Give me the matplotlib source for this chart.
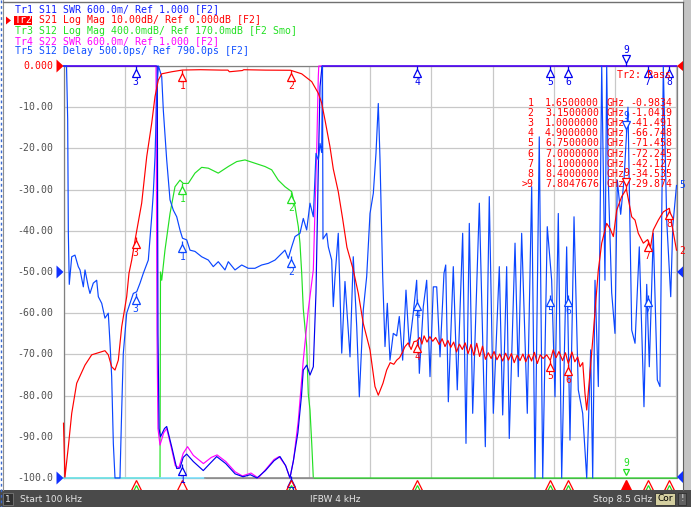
import matplotlib
matplotlib.use('Agg')
import matplotlib.pyplot as plt
import numpy as np
from matplotlib import transforms
from matplotlib.patches import Rectangle, Polygon

# ---- trace data (GHz, value on the screen grid of Tr2, dB) ----
s21_f = [0.0, 0.02, 0.067, 0.114, 0.183, 0.298, 0.391, 0.575, 0.621, 0.668, 0.714, 0.76, 0.807,
         0.876, 0.908, 0.946, 1.0, 1.084, 1.154, 1.223, 1.269, 1.315, 1.362, 1.5, 1.65, 1.9, 2.194,
         2.28, 2.3, 2.48, 2.5, 2.8, 3.15, 3.303, 3.442, 3.533, 3.58, 3.626, 3.695, 3.741, 3.81,
         3.87, 3.93, 4.018, 4.088, 4.157, 4.25, 4.319, 4.365, 4.43, 4.481, 4.53, 4.58, 4.62, 4.66,
         4.70, 4.735, 4.78, 4.82, 4.86, 4.90, 4.94, 4.97, 5.00, 5.04, 5.08, 5.12, 5.16, 5.21,
         5.25, 5.29, 5.33, 5.37, 5.41, 5.45, 5.49, 5.53, 5.57, 5.61, 5.65, 5.69, 5.73, 5.77,
         5.81, 5.85, 5.89, 5.93, 5.97, 6.01, 6.05, 6.09, 6.13, 6.17, 6.21, 6.25, 6.29, 6.33,
         6.37, 6.41, 6.45, 6.49, 6.53, 6.57, 6.61, 6.65, 6.70, 6.75, 6.79, 6.83, 6.87, 6.92,
         6.96, 7.00, 7.05, 7.09, 7.13, 7.162, 7.20, 7.231, 7.255, 7.30, 7.346, 7.416, 7.463,
         7.532, 7.58, 7.624, 7.671, 7.74, 7.805, 7.879, 7.925, 7.97, 8.04, 8.1, 8.14, 8.178,
         8.248, 8.317, 8.4, 8.433, 8.5]
s21_db = [-86.7, -99.8, -92.4, -84.3, -77.0, -72.6, -70.1, -69.1, -70.1, -73.0, -73.8, -71.4, -63.3,
          -56.0, -50.3, -47.1, -41.49, -33.3, -22.0, -13.9, -7.4, -3.4, -1.9, -1.4, -0.98, -0.9, -1.0,
          -1.0, -1.4, -1.1, -0.9, -1.0, -1.04, -1.9, -3.8, -6.6, -9.0, -13.1, -19.6, -25.0, -30.5,
          -37.0, -44.0, -49.5, -55.2, -62.5, -68.9, -77.8, -79.9, -77.0, -73.8, -72.0, -72.4, -71.4, -70.8,
          -69.5, -68.1, -67.2, -68.8, -66.9, -66.75, -65.9, -67.5, -65.5, -67.0, -65.7, -66.8, -65.9, -67.6,
          -66.2, -68.1, -66.6, -68.3, -67.0, -69.4, -67.5, -68.8, -67.2, -69.8, -67.6, -70.2, -67.3, -70.5,
          -68.0, -71.2, -69.6, -71.0, -69.3, -71.3, -69.9, -71.6, -69.7, -71.4, -69.8, -72.0, -70.2, -71.5,
          -69.9, -71.8, -70.0, -71.6, -69.5, -72.2, -70.1, -71.0, -70.1, -71.46, -68.9, -70.8, -69.3, -71.5,
          -69.6, -72.25, -69.4, -71.8, -70.6, -73.0, -72.0, -79.5, -83.5, -74.6, -64.9, -49.5, -43.0,
          -38.2, -39.5, -41.4, -35.0, -31.7, -29.87, -36.6, -37.4, -40.6, -43.0, -42.13, -44.0, -39.8,
          -37.4, -35.4, -34.54, -38.2, -44.7]

s12_f = [0.0, 1.338, 1.345, 1.362, 1.407, 1.477, 1.546, 1.615, 1.661, 1.73, 1.823, 1.916, 2.008,
         2.146, 2.285, 2.402, 2.517, 2.655, 2.794, 2.887, 2.978, 3.071, 3.164, 3.21, 3.256, 3.279,
         3.303, 3.325, 3.372, 3.394, 3.418, 3.442, 3.464, 8.5]
s12_db = [-100, -100, -50.0, -52.0, -44.7, -35.8, -29.3, -27.7, -28.5, -28.5, -26.0, -24.6, -24.8,
          -26.0, -24.4, -23.2, -22.8, -23.6, -24.4, -25.2, -27.7, -29.3, -30.5, -34.1, -39.0, -43.0,
          -50.3, -59.0, -68.0, -79.5, -83.5, -91.6, -100, -100]

s22_f = [0.0, 1.283, 1.296, 1.31, 1.338, 1.39, 1.431, 1.50, 1.55, 1.60, 1.66, 1.72, 1.80, 1.94,
         2.05, 2.13, 2.25, 2.38, 2.48, 2.60, 2.70, 2.80, 2.92, 2.99, 3.08, 3.14, 3.19, 3.256, 3.325,
         3.394, 3.464, 3.487, 3.511, 3.533, 3.54, 8.5]
s22_db = [0, 0, -64, -88, -92, -89, -88, -93, -97, -97.5, -94, -92.4, -94.5, -96.5,
          -95, -94.4, -96, -98.5, -99.5, -98.8, -100, -98, -95.5, -94.8, -97, -100, -95.6, -86, -71.4,
          -59.2, -49.5, -35, -20.4, -2.6, 0, 0]

s11_f = [0.0, 1.30, 1.31, 1.325, 1.345, 1.40, 1.431, 1.50, 1.57, 1.615, 1.66, 1.708, 1.80, 1.938,
         2.03, 2.124, 2.25, 2.38, 2.49, 2.59, 2.683, 2.80, 2.92, 3.002, 3.08, 3.14, 3.186, 3.25,
         3.30, 3.325, 3.372, 3.418, 3.464, 3.501, 3.533, 3.557, 3.585, 8.5]
s11_db = [0, 0, -65, -88, -90, -88, -87.5, -92.4, -97.7, -97.6, -95, -94.2, -96, -98.2,
          -96.5, -94.8, -96.5, -99, -99.7, -99.2, -100, -98.2, -95.8, -94.8, -97, -100, -96, -89,
          -80, -73.8, -72.6, -75, -73, -55, -25, -5, 0, 0]

dly_f = [0.0, 0.042, 0.058, 0.067, 0.08, 0.114, 0.159, 0.205, 0.229, 0.275, 0.298, 0.344, 0.367,
         0.413, 0.46, 0.483, 0.53, 0.575, 0.621, 0.645, 0.668, 0.691, 0.714, 0.783, 0.807, 0.829,
         0.876, 0.922, 0.968, 1.015, 1.061, 1.107, 1.176, 1.223, 1.245, 1.269, 1.296, 1.317, 1.362,
         1.384, 1.431, 1.477, 1.523, 1.57, 1.615, 1.65, 1.708, 1.754, 1.823, 1.916, 2.008, 2.077,
         2.146, 2.239, 2.285, 2.378, 2.471, 2.562, 2.655, 2.748, 2.84, 2.933, 3.026, 3.071, 3.117,
         3.164, 3.21, 3.279, 3.325, 3.372, 3.418, 3.464, 3.501, 3.533, 3.557, 3.58, 3.591, 3.598,
         3.65, 3.672, 3.719, 3.741, 3.765, 3.81, 3.858, 3.903, 3.973, 4.018, 4.066, 4.102, 4.157,
         4.204, 4.25, 4.296, 4.333, 4.365, 4.389, 4.426, 4.458, 4.49, 4.527, 4.573, 4.62, 4.656,
         4.703, 4.749, 4.795, 4.85, 4.897, 4.934, 4.989, 5.036, 5.082, 5.128, 5.175, 5.221, 5.276,
         5.30, 5.336, 5.405, 5.46, 5.535, 5.581, 5.627, 5.674, 5.766, 5.849, 5.904, 5.96, 6.043,
         6.09, 6.145, 6.181, 6.261, 6.306, 6.353, 6.431, 6.492, 6.538, 6.597, 6.645, 6.708, 6.769,
         6.815, 6.861, 6.908, 6.977, 7.023, 7.079, 7.138, 7.199, 7.255, 7.31, 7.338, 7.37, 7.416,
         7.463, 7.508, 7.532, 7.554, 7.601, 7.647, 7.679, 7.726, 7.772, 7.827, 7.879, 7.925,
         7.984, 8.049, 8.087, 8.123, 8.178, 8.234, 8.271, 8.317, 8.364, 8.42, 8.448, 8.5]
dly_db = [0, 0, -13, -40.5, -53, -46.3, -45.9, -48.7, -49.5, -53.6, -49.5, -53.6, -55.2,
          -52.7, -52, -56, -57.6, -61.2, -60, -67.3, -75.4, -91.6, -100, -100, -83.5, -69.8,
          -60, -57.6, -55.2, -54.8, -52.7, -50.3, -47.1, -36.6, -30.9, -22, -5, 0, -2.6,
          -10.7, -22.8, -32.5, -35, -36.6, -39.8, -41.8, -42.2, -44.7, -45, -46.3, -47.1, -48.7,
          -47.5, -49.5, -47.5, -49.5, -48.3, -49.1, -49.1, -48.3, -47.9, -47.1, -45.5, -44.7, -46.7,
          -43.9, -41.4, -40.6, -37, -39.8, -33.3, -36.6, -21.2, -22.8, -18.8, -21, 0, -42,
          -40.6, -43.9, -47.1, -58.4, -51.1, -40.6, -69.7, -52.3, -70.6, -46.3, -63.3, -80.3, -59.2,
          -51.1, -35.8, -30.9, -21.2, -9.1, -22.8, -51.1, -68.1, -57.6, -71.4, -64.9, -65.5, -60.8,
          -71.4, -54.4, -68.1, -60, -52, -74.6, -58.4, -52, -75.4, -53.6, -53.6, -70.6, -50.3,
          -48.3, -81.5, -48.7, -78.6, -40.6, -91.6, -38.2, -84.3, -33.3, -92.4, -31.7, -84.3, -48.7,
          -84.7, -48.7, -90.4, -43, -75.4, -40.6, -84.3, -29.3, -100, -17.2, -100, -39, -52,
          -80.3, -35.8, -100, -43.9, -90.8, -36.6, -78.6, -84.3, -100, -68.9, -100, -52, -77.8,
          0, -52, 0, -27.7, -55, -64.9, -27.7, -36, -27.7, -10, -64.1, -67.3,
          -43.9, -82.7, -53, -73, -40.6, -76.2, -77.8, 0, -37.4, -56, -39, -29]

# limit line segments drawn at the bottom of the grid
lim_cyan_f = [0.0, 1.96]
lim_gray_f = [1.96, 3.46]

# markers (frequency GHz, value, label)
mk_s21 = [(1.65, -0.98, '1'), (3.15, -1.04, '2'), (1.0, -41.49, '3'), (4.9, -66.75, '4'),
          (6.75, -71.46, '5'), (7.0, -72.25, '6'), (8.1, -42.13, '7'), (8.4, -34.54, '8')]
mk_s21_active = (7.8048, -29.87, '9')
mk_s11 = [(1.0, 0, '3'), (4.9, 0, '4'), (6.75, 0, '5'), (7.0, 0, '6'), (8.1, 0, '7'),
          (8.4, 0, '8'), (1.65, -96.5, '1'), (3.15, -99.5, '2')]
mk_s11_active = (7.8048, 0, '9')
mk_s12 = [(1.65, -28.3, '1'), (3.15, -30.5, '2')]
mk_dly = [(1.65, -42.5, '1'), (3.15, -46.0, '2'), (1.0, -55.0, '3'), (4.9, -56.5, '4'),
          (6.75, -55.5, '5'), (7.0, -55.5, '6'), (8.1, -55.5, '7')]
mk_dly_active = (7.8048, -16.0, '9')
stim_f = [1.0, 3.15, 4.9, 6.75, 7.0, 8.1, 8.4]

table_num = ['1', '2', '3', '4', '5', '6', '7', '8', '>9']
table_freq = ['1.6500000', '3.1500000', '1.0000000', '4.9000000', '6.7500000',
              '7.0000000', '8.1000000', '8.4000000', '7.8047676']
table_val = ['-0.9834', '-1.0419', '-41.491', '-66.748', '-71.458',
             '-72.245', '-42.127', '-34.535', '-29.874']

header = [
    'Tr1 S11 SWR 600.0m/ Ref 1.000 [F2]',
    'S21 Log Mag 10.00dB/ Ref 0.000dB [F2]',
    'Tr3 S12 Log Mag 400.0mdB/ Ref 170.0mdB [F2 Smo]',
    'Tr4 S22 SWR 600.0m/ Ref 1.000 [F2]',
    'Tr5 S12 Delay 500.0ps/ Ref 790.0ps [F2]',
]
header_col = ['#1020ff', '#ff0000', '#22e022', '#ff00ff', '#1050ff']

RED = '#ff0000'
GREEN = '#22e022'
MAG = '#ff00ff'
BLUE1 = '#0000f0'
BLUE5 = '#0a46ff'
MONO = 'DejaVu Sans Mono'
FS = 7.15

W, H = 691, 507
fig = plt.figure(figsize=(W / 100, H / 100), dpi=100)
fig.patch.set_facecolor('white')

X0, X1, Y0, Y1 = 63.5, 676.5, 66, 478
ax = fig.add_axes([X0 / W, 1 - Y1 / H, (X1 - X0) / W, (Y1 - Y0) / H])
ax.set_xlim(0, 8.5)
ax.set_ylim(-100, 0)
ax.set_xticks(np.linspace(0, 8.5, 11))
ax.set_yticks(np.arange(-100, 1, 10))
ax.grid(True, color='#c8c8c8', lw=0.9)
ax.set_axisbelow(True)
ax.tick_params(length=0, labelbottom=False, labelleft=False)
for s in ax.spines.values():
    s.set_color('#808080')
    s.set_linewidth(0.9)

lw = 0.85
ax.plot(s12_f, s12_db, color=GREEN, lw=lw, clip_on=False, zorder=3)
ax.plot(lim_cyan_f, [-100, -100], color='#80e4ff', lw=1.2, clip_on=False, zorder=3.2)
ax.plot(lim_gray_f, [-100, -100], color='#909090', lw=1.2, clip_on=False, zorder=3.2)
ax.plot(s22_f, s22_db, color=MAG, lw=lw, clip_on=False, zorder=3.4)
ax.plot(s11_f, s11_db, color=BLUE1, lw=lw, clip_on=False, zorder=3.6)
ax.plot(dly_f, dly_db, color=BLUE5, lw=lw, clip_on=False, zorder=3.7)
ax.plot(s21_f, s21_db, color=RED, lw=lw, clip_on=False, zorder=3.8)


def off(dy):
    return transforms.offset_copy(ax.transData, fig=fig, x=0, y=dy, units='dots')


def marker(f, v, lab, col, active=False):
    s = 1 if active else -1
    ax.plot([f], [v], marker='|', ms=3, color=col, mew=0.9,
            transform=off(s * 2), clip_on=False, zorder=6)
    ax.plot([f], [v], marker='v' if active else '^', ms=5.8, mfc='white', mec=col, mew=0.9,
            transform=off(s * 7), clip_on=False, zorder=6)
    ax.text(f, v, lab, color=col, fontsize=6.9, family=MONO, ha='center', va='center',
            transform=off(s * 16), zorder=7)


for f, v, lab in mk_s11:
    marker(f, v, lab, BLUE1)
for f, v, lab in mk_dly:
    marker(f, v, lab, BLUE5)
for f, v, lab in mk_s12:
    marker(f, v, lab, GREEN)
for f, v, lab in mk_s21:
    marker(f, v, lab, RED)
marker(*mk_s11_active, BLUE1, active=True)
marker(*mk_dly_active, BLUE5, active=True)
marker(*mk_s21_active, RED, active=True)

# stimulus markers below the grid
for f in stim_f:
    ax.plot([f], [-100], marker='^', ms=5, mfc='white', mec=GREEN, mew=0.9,
            transform=off(-10), clip_on=False, zorder=6)
    ax.plot([f], [-100], marker='^', ms=7, mfc='none', mec=RED, mew=0.9,
            transform=off(-7), clip_on=False, zorder=6)
ax.plot([1.65], [-100], marker='^', ms=7, mfc='white', mec=RED, mew=0.9,
        transform=off(-7), clip_on=False, zorder=6)
ax.plot([mk_s21_active[0]], [-100], marker='^', ms=7, color=RED,
        transform=off(-7), clip_on=False, zorder=6)
ax.plot([mk_s21_active[0]], [-100], marker='v', ms=5, mfc='white', mec=GREEN, mew=0.9,
        transform=off(6), clip_on=False, zorder=6)
ax.text(mk_s21_active[0], -100, '9', color=GREEN, fontsize=6.9, family=MONO, ha='center',
        va='center', transform=off(15), zorder=7)

# ---- overlay in pixel units for the screen furniture ----
ov = fig.add_axes([0, 0, 1, 1], zorder=5)
ov.set_xlim(0, W)
ov.set_ylim(H, 0)
ov.axis('off')
ov.patch.set_alpha(0)

# header lines
ys = [8.6, 20.3, 30.9, 41.0, 51.3]
for i, txt in enumerate(header):
    x = 15 if i != 1 else 15 + 4 * 5.9
    ov.text(x, ys[i], txt, color=header_col[i], fontsize=FS, family=MONO, va='center', ha='left')
ov.add_patch(Rectangle((14, 15.5), 18.5, 9.5, color=RED, lw=0))
ov.text(15, ys[1], 'Tr2', color='white', fontsize=FS, family=MONO, va='center', ha='left')
ov.add_patch(Polygon([(6, 16.5), (11, 20.5), (6, 24.5)], color=RED, lw=0))

# y axis labels
for v in range(0, -101, -10):
    py = Y0 + (-v) / 100 * (Y1 - Y0)
    if v == 0:
        lab, col = '0.000', RED
    elif v == -100:
        lab, col = '-100.0', '#505050'
    else:
        lab, col = '%.2f' % v, '#505050'
    ov.text(53, py, lab, color=col, fontsize=FS, family=MONO, ha='right', va='center')

# reference level arrows
ov.add_patch(Polygon([(56.5, 59.5), (63.5, 66), (56.5, 72.5)], color=RED, lw=0))
ov.add_patch(Polygon([(56.5, 265.5), (63.5, 272), (56.5, 278.5)], color='#1030ff', lw=0))
ov.add_patch(Polygon([(56.5, 471.5), (63.5, 478), (56.5, 484.5)], color='#1030ff', lw=0))
ov.add_patch(Polygon([(686, 58.5), (677, 66), (686, 73.5)], color=RED, lw=0))
ov.add_patch(Polygon([(684, 265.5), (677, 272), (684, 278.5)], color='#1030ff', lw=0))
ov.add_patch(Polygon([(684, 470), (677, 477), (684, 484)], color='#1030ff', lw=0))
ov.text(679.5, 185, '5', color=BLUE5, fontsize=6.9, family=MONO, ha='left', va='center')
ov.text(679.5, 251, '2', color=RED, fontsize=6.9, family=MONO, ha='left', va='center')

# limit test result and marker table
ov.text(617, 75, 'Tr2: Pass', color=RED, fontsize=FS, family=MONO, ha='left', va='center')
for i in range(len(table_num)):
    y = 102.7 + i * 10.17
    ov.text(533.5, y, table_num[i], color=RED, fontsize=FS, family=MONO, ha='right', va='center')
    ov.text(545, y, table_freq[i], color=RED, fontsize=FS, family=MONO, ha='left', va='center')
    ov.text(606.5, y, 'GHz', color=RED, fontsize=FS, family=MONO, ha='left', va='center')
    ov.text(630, y, table_val[i], color=RED, fontsize=FS, family=MONO, ha='left', va='center')

# window borders
ov.plot([1.2, 1.2], [0, H], color='#3a6ad0', lw=1, ls=(0, (2, 2)))
ov.plot([3.5, 3.5], [0, 490], color='#909090', lw=0.8)
ov.plot([3.5, 683], [2, 2], color='#707070', lw=1)
ov.add_patch(Rectangle((683, 0), 8, H, color='#c4c4c4', lw=0))
ov.plot([683.5, 683.5], [2, 490], color='#606060', lw=0.8)

# status bar
ov.add_patch(Rectangle((0, 490), W, 17, color='#4a4a4a', lw=0))
ov.add_patch(Rectangle((3, 492.5), 10, 12, facecolor='#303030', edgecolor='#777777', lw=0.6))
ov.text(8, 499, '1', color='#e6e6e6', fontsize=6.5, ha='center', va='center')
ov.text(20, 499, 'Start 100 kHz', color='#e6e6e6', fontsize=6.5, ha='left', va='center')
ov.text(335, 499, 'IFBW 4 kHz', color='#e6e6e6', fontsize=6.5, ha='center', va='center')
ov.text(652, 499, 'Stop 8.5 GHz', color='#e6e6e6', fontsize=6.5, ha='right', va='center')
ov.add_patch(Rectangle((655, 492.5), 20, 12, facecolor='#d4cfa0', edgecolor='#303030', lw=0.6))
ov.text(665, 498.8, 'Cor', color='black', fontsize=6.5, ha='center', va='center')
ov.add_patch(Rectangle((678, 492.5), 8, 12, facecolor='#606060', edgecolor='#303030', lw=0.6))
ov.text(682, 498.8, '!', color='#e6e6e6', fontsize=6.5, ha='center', va='center')

fig.savefig('out.png', dpi=100, facecolor='white')
